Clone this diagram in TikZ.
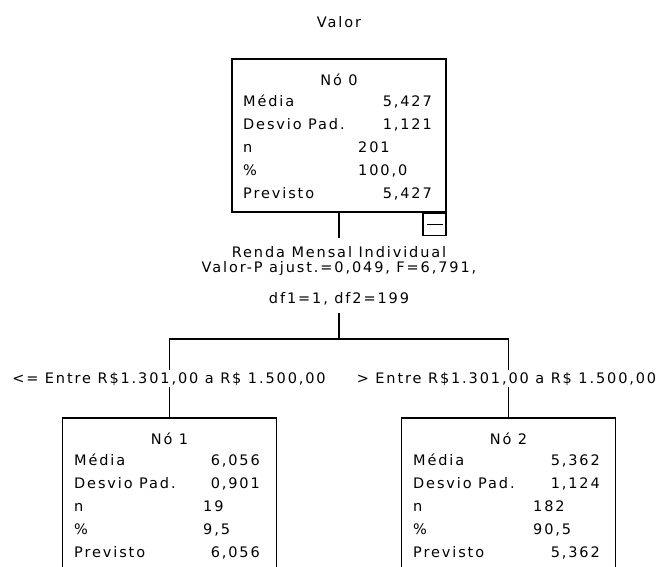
\documentclass[tikz,border=0pt]{standalone}
\usepackage{fontspec}
\setmainfont{DejaVu Sans}[LetterSpace=13]
\usepackage{tikz}
\usetikzlibrary{positioning}

\tikzset{
  treetext/.style={font=\fontsize{14.5}{17}\selectfont, inner sep=0pt},
  statbox/.style={draw, line width=1.1pt, minimum width=214pt, minimum height=153pt, inner sep=0pt},
  rowlabel/.style={treetext, anchor=base west},
  rowvalue/.style={treetext, anchor=base east},
  rowcount/.style={treetext, anchor=base west},
  splittext/.style={treetext, inner ysep=8pt},
  branchlabel/.style={treetext, fill=white, inner sep=1.5pt, anchor=base},
  treeline/.style={line width=1.1pt}
}

\begin{document}
\begin{tikzpicture}[x=1pt, y=-1pt]
    \fill[white] (0,0) rectangle (661,566);
    \clip (0,0) rectangle (661,566);

    % Dependent variable
    \node[treetext, anchor=base] (target) at (339,27) {Valor};

    % Root node
    \node[statbox] (n0) at (339,135.5) {};
    \node[treetext, anchor=base] (n0-title) at (339,85) {Nó 0};
    \foreach \lab [count=\i] in {Média, Desvio Pad., n, \%, Previsto}
        \node[rowlabel] (n0-l\i) at (243,83+23*\i) {\lab};
    \node[rowvalue] (n0-v1) at (432,106) {5,427};
    \node[rowvalue] (n0-v2) at (432,129) {1,121};
    \node[rowcount] (n0-v3) at (358,152) {201};
    \node[rowcount] (n0-v4) at (358,175) {100,0};
    \node[rowvalue] (n0-v5) at (432,198) {5,427};
    \node[draw, line width=1.1pt, minimum width=23pt, minimum height=22pt, anchor=north east] (toggle) at (n0.south east) {};
    \draw[treeline] ([xshift=5pt]toggle.west) -- ([xshift=-4pt]toggle.east);

    % Split variable
    \node[splittext, anchor=base] (split) at (339,257) {Renda Mensal Individual};
    \node[treetext, anchor=base] (split-p) at (339,272) {Valor-P ajust.=0,049, F=6,791,};
    \node[splittext, anchor=base] (split-df) at (339,303) {df1=1, df2=199};
    \coordinate (fork) at (339,339);

    % Child nodes
    \node[statbox] (n1) at (169.5,494.5) {};
    \node[treetext, anchor=base] (n1-title) at (169.5,444) {Nó 1};
    \foreach \lab [count=\i] in {Média, Desvio Pad., n, \%, Previsto}
        \node[rowlabel] (n1-l\i) at (74,442+23*\i) {\lab};
    \node[rowvalue] (n1-v1) at (260,465) {6,056};
    \node[rowvalue] (n1-v2) at (260,488) {0,901};
    \node[rowcount] (n1-v3) at (203,511) {19};
    \node[rowcount] (n1-v4) at (203,534) {9,5};
    \node[rowvalue] (n1-v5) at (260,557) {6,056};

    \node[statbox] (n2) at (508.5,494.5) {};
    \node[treetext, anchor=base] (n2-title) at (508.5,444) {Nó 2};
    \foreach \lab [count=\i] in {Média, Desvio Pad., n, \%, Previsto}
        \node[rowlabel] (n2-l\i) at (413,442+23*\i) {\lab};
    \node[rowvalue] (n2-v1) at (600,465) {5,362};
    \node[rowvalue] (n2-v2) at (600,488) {1,124};
    \node[rowcount] (n2-v3) at (533,511) {182};
    \node[rowcount] (n2-v4) at (533,534) {90,5};
    \node[rowvalue] (n2-v5) at (600,557) {5,362};

    % Connectors
    \draw[treeline] (n0.south) -- (split.north);
    \draw[treeline] (split-df.south) -- (fork);
    \draw[treeline] (fork) -| (n1.north);
    \draw[treeline] (fork) -| (n2.north);

    % Branch conditions
    \node[branchlabel] (b1) at (169,383) {<= Entre R\$1.301,00 a R\$ 1.500,00};
    \node[branchlabel] (b2) at (506.5,383) {> Entre R\$1.301,00 a R\$ 1.500,00};
\end{tikzpicture}
\end{document}
